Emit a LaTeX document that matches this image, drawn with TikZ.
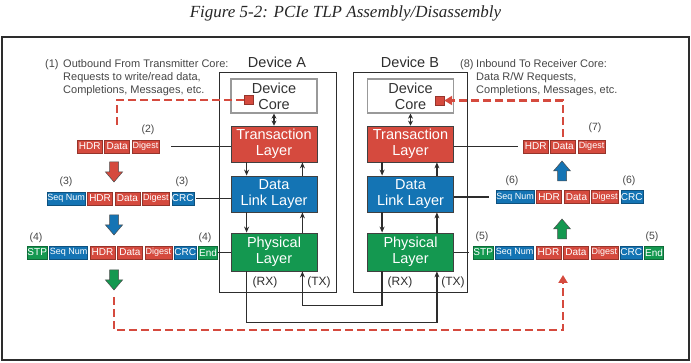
\documentclass[tikz,border=0pt]{standalone}
\usepackage{fontspec}
\setmainfont{Liberation Sans}
\newfontfamily\titlefont{Liberation Serif}
\usetikzlibrary{positioning,arrows.meta}
\definecolor{tlred}{RGB}{213,74,62}
\definecolor{dlblue}{RGB}{20,116,180}
\definecolor{phgreen}{RGB}{20,152,80}
\definecolor{ink}{RGB}{45,45,45}
\definecolor{note}{RGB}{70,70,70}

\begin{document}
\begin{tikzpicture}[x=1pt,y=-1pt,
  layerbox/.style={draw=black!75, line width=0.8pt, minimum width=86pt, text=white,
    align=center, inner sep=0pt, font=\fontsize{14.5}{16}\selectfont},
  corebox/.style={layerbox, fill=white, draw=black!40, line width=1.3pt, text=black!80},
  devbox/.style={draw=ink, line width=1pt, inner sep=0pt},
  devlabel/.style={font=\fontsize{14.5}{16}\selectfont, text=ink, inner sep=0pt},
  fld/.style={minimum height=13pt, inner sep=0pt, text=white, line width=0.4pt,
    font=\fontsize{10}{11}\selectfont},
  fred/.style={fld, fill=tlred, draw=tlred!70!black},
  fblue/.style={fld, fill=dlblue, draw=dlblue!70!black},
  fgreen/.style={fld, fill=phgreen, draw=phgreen!70!black},
  hdr/.style={fred, minimum width=25pt},
  dat/.style={fred, minimum width=25pt},
  dig/.style={fred, minimum width=27pt, font=\fontsize{9}{10}\selectfont},
  seq/.style={fblue, minimum width=38pt, font=\fontsize{9}{10}\selectfont},
  crc/.style={fblue, minimum width=22pt},
  stp/.style={fgreen, minimum width=20pt},
  fend/.style={fgreen, minimum width=19pt},
  num/.style={font=\fontsize{10.5}{12}\selectfont, text=note, inner sep=0pt},
  notetext/.style={font=\fontsize{11}{13}\selectfont, text=note, inner sep=0pt, align=left},
  rxtx/.style={font=\fontsize{12}{14}\selectfont, text=ink, inner sep=0pt},
  pics/blockdown/.style={code={
    \filldraw[draw=black!70, line width=0.5pt, fill=#1]
      (-4.5,-10) -- (4.5,-10) -- (4.5,0) -- (8.5,0) -- (0,10) -- (-8.5,0) -- (-4.5,0) -- cycle;}},
  pics/blockup/.style={code={
    \filldraw[draw=black!70, line width=0.5pt, fill=#1]
      (-4.5,10) -- (4.5,10) -- (4.5,0) -- (8.5,0) -- (0,-10) -- (-8.5,0) -- (-4.5,0) -- cycle;}},
  conn/.style={draw=ink, line width=1.3pt, -{Stealth[length=6pt,width=5pt]}},
  dconn/.style={draw=ink, line width=1.3pt, {Stealth[length=5pt,width=5pt]}-{Stealth[length=5pt,width=5pt]}},
  link/.style={draw=ink, line width=1.2pt},
  dred/.style={draw=tlred, line width=2.2pt, dash pattern=on 8pt off 4pt},
  sqr/.style={fill=tlred, draw=tlred!70!black, line width=0.4pt, minimum size=9pt, inner sep=0pt},
  redtip/.style={-{Triangle[length=8pt,width=9pt]}}
]
\useasboundingbox (0,0) rectangle (691,363);

% title and frame
\node[font=\titlefont\itshape\fontsize{17}{20}\selectfont, text=black!85] (title) at (345.5,13) {Figure 5-2: PCIe TLP Assembly/Disassembly};
\draw[draw=ink, line width=1.4pt] (2,37) rectangle (689,360);

% device enclosures
\node[devbox, minimum width=117pt, minimum height=220pt] (devA) at (277.5,183) {};
\node[devbox, minimum width=114pt, minimum height=220pt] (devB) at (410,183) {};
\node[devlabel] (lblA) at (277,62) {Device A};
\node[devlabel] (lblB) at (410,62) {Device B};

% layer stacks
\node[corebox, minimum height=34pt] (ca) at (274,96) {Device\\Core};
\node[layerbox, fill=tlred, minimum height=36pt] (ta) at (274,144) {Transaction\\Layer};
\node[layerbox, fill=dlblue, minimum height=36pt] (la) at (274,194) {Data\\Link Layer};
\node[layerbox, fill=phgreen, minimum height=38pt] (pa) at (274,252) {Physical\\Layer};

\node[corebox, minimum height=34pt] (cb) at (410.5,96) {Device\\Core};
\node[layerbox, fill=tlred, minimum height=36pt] (tb) at (410.5,144) {Transaction\\Layer};
\node[layerbox, fill=dlblue, minimum height=36pt] (lb) at (410.5,194) {Data\\Link Layer};
\node[layerbox, fill=phgreen, minimum height=38pt] (pb) at (410.5,252) {Physical\\Layer};

\node[sqr] (sqa) at (248.5,100) {};
\node[sqr] (sqb) at (439.5,100.5) {};

% arrows inside the devices
\draw[dconn] (ca.south) -- (ta.north);
\draw[conn] ([xshift=16pt]ta.south west) -- ([xshift=16pt]la.north west);
\draw[conn] ([xshift=-15pt]la.north east) -- ([xshift=-15pt]ta.south east);
\draw[conn] ([xshift=16pt]la.south west) -- ([xshift=16pt]pa.north west);
\draw[conn] ([xshift=-15pt]pa.north east) -- ([xshift=-15pt]la.south east);

\draw[dconn] (cb.south) -- (tb.north);
\draw[conn] ([xshift=15pt]tb.south west) -- ([xshift=15pt]lb.north west);
\draw[conn] ([xshift=-17pt]lb.north east) -- ([xshift=-17pt]tb.south east);
\draw[conn] ([xshift=15pt]lb.south west) -- ([xshift=15pt]pb.north west);
\draw[conn] ([xshift=-17pt]pb.north east) -- ([xshift=-17pt]lb.south east);

% the link between the two physical layers
\draw[conn] ([xshift=16pt]pa.south west) -- ++(0,51) -| ([xshift=-17pt]pb.south east);
\draw[conn] ([xshift=15pt]pb.south west) -- ++(0,34) -| ([xshift=-15pt]pa.south east);
\node[rxtx] (rxa) at (265,282) {(RX)};
\node[rxtx] (txa) at (319,282) {(TX)};
\node[rxtx] (rxb) at (400,282) {(RX)};
\node[rxtx] (txb) at (453,282) {(TX)};

% transmit side notes
\node[notetext, anchor=north west] (n1) at (45,59.5) {(1)};
\node[notetext, anchor=north west] (t1) at (63,59.5) {Outbound From Transmitter Core:\\Requests to write/read data,\\Completions, Messages, etc.};

% (2) transaction layer packet
\node[hdr, anchor=west] (h2) at (77,146.5) {HDR};
\node[dat, right=2pt of h2] (d2) {Data};
\node[dig, right=2pt of d2] (g2) {Digest};
\node[num] (n2) at (148,130) {(2)};

% (3) data link layer packet
\node[seq, anchor=west] (s3) at (47,198.5) {Seq Num};
\node[hdr, right=2pt of s3] (h3) {HDR};
\node[dat, right=2pt of h3] (d3) {Data};
\node[dig, right=2pt of d3] (g3) {Digest};
\node[crc, right=2pt of g3] (c3) {CRC};
\node[num] (n3a) at (66,182) {(3)};
\node[num] (n3b) at (182,182) {(3)};

% (4) physical layer packet
\node[stp, anchor=west] (p4) at (27,252.5) {STP};
\node[seq, right=2pt of p4] (s4) {Seq Num};
\node[hdr, right=2pt of s4] (h4) {HDR};
\node[dat, right=2pt of h4] (d4) {Data};
\node[dig, right=2pt of d4] (g4) {Digest};
\node[crc, right=2pt of g4] (c4) {CRC};
\node[fend, right=2pt of c4] (e4) {End};
\node[num] (n4a) at (36,238) {(4)};
\node[num] (n4b) at (205,238) {(4)};

% assembly steps on the transmit side
\pic (ar1) at (114,172) {blockdown=tlred};
\pic (ar2) at (114,225) {blockdown=dlblue};
\pic (ar3) at (114,280) {blockdown=phgreen};
\coordinate (txout) at (114,297);

% receive side notes
\node[notetext, anchor=north west] (n8) at (460,59.5) {(8)};
\node[notetext, anchor=north west] (t8) at (476,59.5) {Inbound To Receiver Core:\\Data R/W Requests,\\Completions, Messages, etc.};

% (7) transaction layer packet
\node[hdr, anchor=west] (h7) at (523,146.5) {HDR};
\node[dat, right=2pt of h7] (d7) {Data};
\node[dig, right=2pt of d7] (g7) {Digest};
\node[num] (n7) at (595,128) {(7)};

% (6) data link layer packet
\node[seq, anchor=west] (s6) at (496,197) {Seq Num};
\node[hdr, right=2pt of s6] (h6) {HDR};
\node[dat, right=2pt of h6] (d6) {Data};
\node[dig, right=2pt of d6] (g6) {Digest};
\node[crc, right=2pt of g6] (c6) {CRC};
\node[num] (n6a) at (512,181) {(6)};
\node[num] (n6b) at (629,181) {(6)};

% (5) physical layer packet
\node[stp, anchor=west] (p5) at (473,252.5) {STP};
\node[seq, right=2pt of p5] (s5) {Seq Num};
\node[hdr, right=2pt of s5] (h5) {HDR};
\node[dat, right=2pt of h5] (d5) {Data};
\node[dig, right=2pt of d5] (g5) {Digest};
\node[crc, right=2pt of g5] (c5) {CRC};
\node[fend, right=2pt of c5] (e5) {End};
\node[num] (n5a) at (482,237) {(5)};
\node[num] (n5b) at (652,237) {(5)};

% disassembly steps on the receive side
\pic (br3) at (562,229) {blockup=phgreen};
\pic (br2) at (562,171) {blockup=dlblue};
\coordinate (rxin) at (563,275);

% packets handed to the layers
\draw[link] ([xshift=12pt]g2.east) -- (g2.east -| ta.west);
\draw[link] ([xshift=2pt]c3.east) -- (c3.east -| la.west);
\draw[link] (e4.east) -- (e4.east -| pa.west);
\draw[link] (tb.east |- h7.west) -- ([xshift=-5pt]h7.west);
\draw[link] (lb.east |- s6.west) -- ([xshift=-7pt]s6.west);
\draw[link] (pb.east |- p5.west) -- ([xshift=-4pt]p5.west);

% packet flow between the cores
\draw[dred] (sqa.west) -| ([yshift=12pt]d2.north);
\draw[dred, redtip] ([yshift=3pt]d7.north) |- (sqb.east);
\draw[dred, redtip] (txout) -- ++(0,33) -| (rxin);
\end{tikzpicture}
\end{document}
